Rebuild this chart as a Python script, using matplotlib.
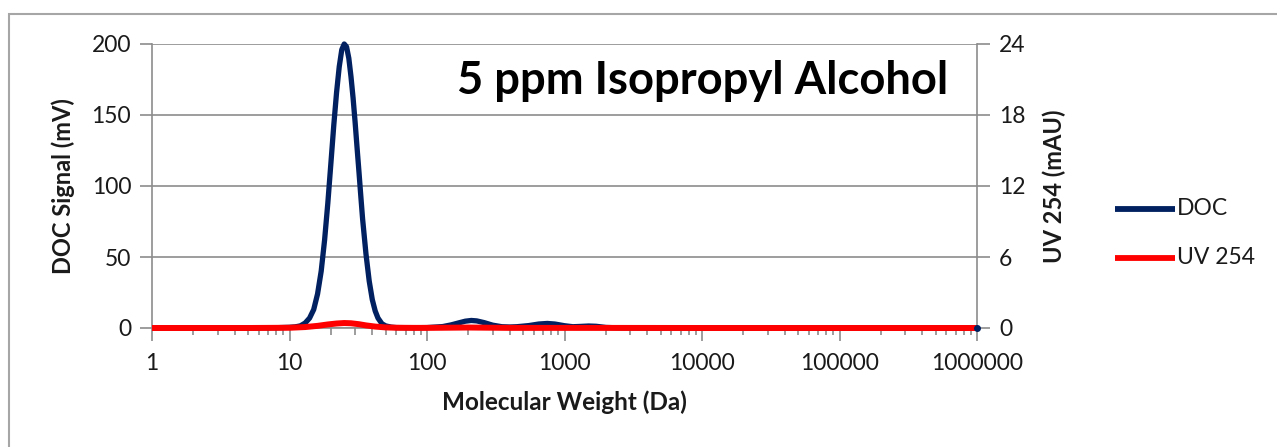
import matplotlib
matplotlib.use("Agg")
import matplotlib.pyplot as plt
from matplotlib.ticker import LogLocator, NullFormatter, FixedLocator
from matplotlib.patches import Rectangle

plt.rcParams['font.family'] = ['Lato', 'DejaVu Sans']

# ---- data ----
doc_mw = [1, 2, 5, 8, 10, 11, 12, 13, 14, 15, 16, 17, 18, 19, 20, 21, 22, 23, 24, 25,
          26, 27, 28, 29, 30, 31, 32, 33, 34, 36, 38, 40, 42, 44, 47, 50, 55, 60, 80,
          100, 130, 150, 170, 190, 210, 230, 260, 300, 350, 400, 450, 550, 650, 750,
          850, 1000, 1150, 1300, 1500, 1700, 2000, 2500, 5000, 10000, 100000, 1000000]
doc_mv = [0, 0, 0, 0.2, 0.5, 0.8, 1.5, 3.5, 7, 13, 24, 40, 62, 88, 116, 143, 166, 184, 196, 200,
          198, 190, 177, 162, 145, 127, 110, 93, 77, 52, 33, 20, 12, 7, 3, 1.5, 0.6, 0.3, 0.2,
          0.3, 1.0, 2.2, 3.6, 4.8, 5.3, 5.0, 3.8, 2.0, 0.9, 0.7, 0.9, 1.7, 2.8, 3.2,
          2.8, 1.6, 0.9, 1.1, 1.4, 1.2, 0.4, 0.1, 0, 0, 0, 0]

uv_mw = [1, 5, 10, 13, 16, 19, 22, 25, 28, 32, 36, 42, 50, 60, 80, 100, 200, 400, 1000,
         10000, 1000000]
uv_mau = [0, 0, 0.02, 0.08, 0.18, 0.3, 0.38, 0.42, 0.4, 0.32, 0.22, 0.12, 0.05, 0.02, 0.01,
          0.01, 0.04, 0.01, 0.01, 0, 0]

left_ticks = [0, 50, 100, 150, 200]
right_ticks = [0, 6, 12, 18, 24]
x_ticks = [1, 10, 100, 1000, 10000, 100000, 1000000]
x_labels = ['1', '10', '100', '1000', '10000', '100000', '1000000']

title = '5 ppm Isopropyl Alcohol'

# ---- figure ----
W, H = 1277, 447
fig = plt.figure(figsize=(W / 100, H / 100), dpi=100)

# outer chart border
fig.patches.append(Rectangle((9 / W, -0.1), 1.2, 1 - 14 / H + 0.1, transform=fig.transFigure,
                             fill=False, edgecolor='#A6A6A6', linewidth=1.5))

ax_l, ax_r, ax_t, ax_b = 152, 977, 44, 328
ax = fig.add_axes([ax_l / W, 1 - ax_b / H, (ax_r - ax_l) / W, (ax_b - ax_t) / H])
ax2 = ax.twinx()

navy = '#002060'
red = '#FF0000'
grid_c = '#8C8C8C'
txt_c = '#1A1A1A'

ax.set_xscale('log')
ax.set_xlim(1, 1e6)
ax.set_ylim(0, 200)
ax2.set_ylim(0, 24)

ax.plot(doc_mw, doc_mv, color=navy, lw=3.8, solid_capstyle='butt', solid_joinstyle='round',
        zorder=3, clip_on=False)
ax2.plot(uv_mw, uv_mau, color=red, lw=4.3, solid_capstyle='butt', solid_joinstyle='round',
         zorder=3, clip_on=False)
ax2.plot([doc_mw[-1]], [doc_mv[-1] * 24 / 200], 'o', color=navy, ms=4, zorder=5, clip_on=False)

ax.yaxis.set_major_locator(FixedLocator(left_ticks))
ax2.yaxis.set_major_locator(FixedLocator(right_ticks))
ax.set_xticks(x_ticks)
ax.set_xticklabels(x_labels)
ax.xaxis.set_minor_locator(LogLocator(base=10, subs=range(2, 10), numticks=20))
ax.xaxis.set_minor_formatter(NullFormatter())

ax.grid(axis='y', color=grid_c, lw=1.2)
ax.set_axisbelow(True)

for a in (ax, ax2):
    for s in a.spines.values():
        s.set_visible(False)
ax.spines['left'].set_visible(True)
ax.spines['left'].set_color(grid_c)
ax.spines['left'].set_linewidth(1.2)
ax.spines['bottom'].set_visible(True)
ax.spines['bottom'].set_color(grid_c)
ax.spines['bottom'].set_linewidth(1.2)
ax2.spines['right'].set_visible(True)
ax2.spines['right'].set_color(grid_c)
ax2.spines['right'].set_linewidth(1.2)

ax.tick_params(axis='y', direction='out', length=9, width=1.2, color=grid_c,
               labelsize=16.5, labelcolor=txt_c, pad=6)
ax2.tick_params(axis='y', direction='out', length=9, width=1.2, color=grid_c,
                labelsize=16.5, labelcolor=txt_c, pad=7)
ax.tick_params(axis='x', which='major', direction='out', length=9, width=1.2, color=grid_c,
               labelsize=16.5, labelcolor=txt_c, pad=9)
ax.tick_params(axis='x', which='minor', direction='out', length=5, width=1.2, color=grid_c)

ax.set_ylabel('DOC Signal (mV)', fontsize=17, fontweight='bold', color=txt_c, labelpad=12)
ax2.set_ylabel('UV 254 (mAU)', fontsize=17, fontweight='bold', color=txt_c, labelpad=12)
ax.set_xlabel('Molecular Weight (Da)', fontsize=17.5, fontweight='bold', color=txt_c, labelpad=12)

fig.text(948 / W, 1 - 81 / H, title, fontsize=32.7, fontweight='bold', color='black',
         ha='right', va='center')

# legend (manual)
for yy, col, lab in [(209, navy, 'DOC'), (258, red, 'UV 254')]:
    fig.add_artist(plt.Line2D([1115 / W, 1175 / W], [1 - yy / H, 1 - yy / H],
                              transform=fig.transFigure, color=col, lw=4.2,
                              solid_capstyle='butt'))
    fig.text(1177 / W, 1 - yy / H, lab, fontsize=16.5, color=txt_c, ha='left', va='center')

fig.savefig('out.png', dpi=100)
